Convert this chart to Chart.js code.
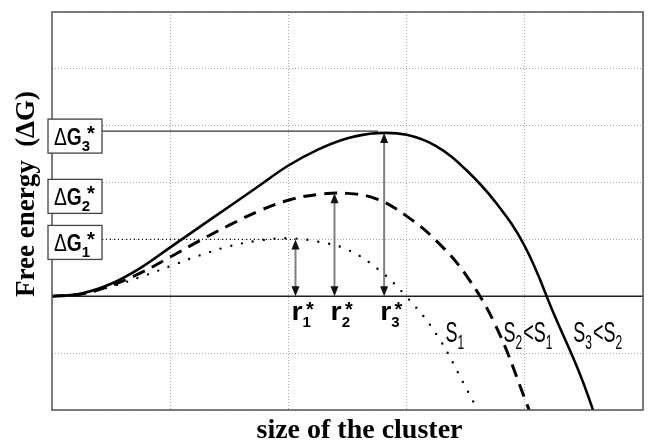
<!DOCTYPE html>
<html>
<head>
<meta charset="utf-8">
<script src="https://cdn.jsdelivr.net/npm/chart.js@4/dist/chart.umd.min.js"></script>
<style>
  body { margin: 0; background: #fff; }
  #wrap { width: 650px; height: 442px; }
</style>
</head>
<body>
<div id="wrap"><canvas id="chart" width="650" height="442"></canvas></div>
<script>
// cluster size (x) and free energy
const sizes = [0, 0.25, 0.5, 0.75, 1, 1.25, 1.5, 1.75, 2, 2.25, 2.5, 2.75, 3, 3.25, 3.5, 3.75, 4, 4.25, 4.5, 4.75];
const gS1 = [0, 0.04, 0.17, 0.34, 0.53, 0.72, 0.88, 0.98, 1.02, 0.96, 0.82, 0.49, -0.01, -0.66, -1.6, -2.6, null, null, null, null];
const gS2 = [0, 0.04, 0.19, 0.41, 0.69, 0.98, 1.25, 1.5, 1.69, 1.79, 1.81, 1.71, 1.41, 0.98, 0.38, -0.5, -1.8, -3.2, null, null];
const gS3 = [0, 0.05, 0.22, 0.5, 0.86, 1.22, 1.58, 1.94, 2.3, 2.58, 2.78, 2.87, 2.84, 2.64, 2.23, 1.66, 0.88, -0.33, -1.55, -3.1];

// critical radius / barrier for each curve
const critR = [2.06, 2.39, 2.81];
const critG = [1.0, 1.81, 2.87];
const indices = ['1', '2', '3'];

// curve labels: [first S index, second S index or null, x, y]
const curveLabels = [['1', null, 3.33, -0.81], ['2', '1', 3.82, -0.81], ['3', '2', 4.41, -0.81]];

const xTicks = [0, 1, 2, 3, 4, 5];
const yMin = -2, yMax = 5;

function pts(ys) {
  return sizes.map((x, i) => ({ x: x, y: ys[i] }));
}

// draw a run of text pieces, each with own font / offset / horizontal squeeze
function rich(ctx, x, y, parts) {
  let cx = x;
  parts.forEach(p => {
    ctx.save();
    ctx.font = p.f;
    const sx = p.sx || 1;
    ctx.translate(cx + (p.pre || 0), y + (p.dy || 0));
    ctx.scale(sx, 1);
    ctx.fillText(p.t, 0, 0);
    cx += ctx.measureText(p.t).width * sx + (p.pre || 0) + (p.gap || 0);
    ctx.restore();
  });
}

function arrow(ctx, x, yTop, yBot) {
  const hl = 10, hw = 4;
  ctx.strokeStyle = '#808080';
  ctx.lineWidth = 2;
  ctx.beginPath();
  ctx.moveTo(x, yTop + hl - 1);
  ctx.lineTo(x, yBot - hl + 1);
  ctx.stroke();
  ctx.fillStyle = '#111';
  ctx.beginPath();
  ctx.moveTo(x, yTop); ctx.lineTo(x - hw, yTop + hl); ctx.lineTo(x + hw, yTop + hl); ctx.closePath();
  ctx.fill();
  ctx.beginPath();
  ctx.moveTo(x, yBot); ctx.lineTo(x - hw, yBot - hl); ctx.lineTo(x + hw, yBot - hl); ctx.closePath();
  ctx.fill();
}

const sans = '"Liberation Sans", Arial, sans-serif';

const decor = {
  id: 'decor',
  beforeDatasetsDraw(chart) {
    const ctx = chart.ctx, a = chart.chartArea;
    const y0 = chart.scales.y.getPixelForValue(0);
    ctx.save();
    ctx.strokeStyle = '#222';
    ctx.lineWidth = 1.5;
    ctx.beginPath();
    ctx.moveTo(a.left, y0); ctx.lineTo(a.right, y0);
    ctx.stroke();
    ctx.restore();
  },
  afterDatasetsDraw(chart) {
    const ctx = chart.ctx, a = chart.chartArea;
    const xs = chart.scales.x, ys = chart.scales.y;
    const y0 = ys.getPixelForValue(0);
    ctx.save();

    // frame
    ctx.strokeStyle = '#555';
    ctx.lineWidth = 1.5;
    ctx.strokeRect(a.left, a.top, a.right - a.left, a.bottom - a.top);

    const boxL = a.left - 4, boxW = 54, boxH = 34;

    // reference line for the largest barrier
    ctx.strokeStyle = '#333';
    ctx.lineWidth = 1.3;
    ctx.beginPath();
    ctx.moveTo(boxL + boxW, ys.getPixelForValue(critG[2]) - 2);
    ctx.lineTo(xs.getPixelForValue(critR[2]) - 6, ys.getPixelForValue(critG[2]) - 2);
    ctx.stroke();
    // dotted reference for smallest barrier
    ctx.strokeStyle = '#111';
    ctx.setLineDash([1, 3]);
    ctx.beginPath();
    ctx.moveTo(boxL + boxW, ys.getPixelForValue(critG[0]));
    ctx.lineTo(xs.getPixelForValue(critR[0]), ys.getPixelForValue(critG[0]));
    ctx.stroke();
    ctx.setLineDash([]);

    // arrows and r* labels
    critR.forEach((r, i) => {
      const px = xs.getPixelForValue(r);
      arrow(ctx, px, ys.getPixelForValue(critG[i]), y0);
      ctx.fillStyle = '#000';
      ctx.textBaseline = 'alphabetic';
      rich(ctx, px - 4, y0 + 24, [
        { t: 'r', f: 'bold 26px ' + sans, sx: 1.1 },
        { t: indices[i], f: 'bold 15px ' + sans, dy: 7, gap: -6 },
        { t: '*', f: 'bold 20px ' + sans, dy: -4, pre: 1 }
      ]);
    });

    // ΔG* boxes
    critG.forEach((g, i) => {
      const cy = ys.getPixelForValue(g) + 3;
      ctx.fillStyle = '#fff';
      ctx.fillRect(boxL, cy - boxH / 2, boxW, boxH);
      ctx.strokeStyle = '#444';
      ctx.lineWidth = 1.3;
      ctx.strokeRect(boxL, cy - boxH / 2, boxW, boxH);
      ctx.fillStyle = '#000';
      rich(ctx, boxL + 6, cy + 9, [
        { t: 'Δ', f: '24px ' + sans, sx: 0.8 },
        { t: 'G', f: 'bold 24px ' + sans, sx: 0.8 },
        { t: indices[i], f: 'bold 15px ' + sans, dy: 6, gap: -3 },
        { t: '*', f: 'bold 20px ' + sans, dy: -5 }
      ]);
    });

    // S labels
    const big = '30px ' + sans;
    const sub = '20px ' + sans;
    const sq = 0.6;
    curveLabels.forEach(l => {
      const parts = [
        { t: 'S', f: big, sx: sq },
        { t: l[0], f: sub, sx: sq, dy: 7 }
      ];
      if (l[1]) {
        parts.push({ t: '<', f: big, sx: sq, pre: 1 });
        parts.push({ t: 'S', f: big, sx: sq });
        parts.push({ t: l[1], f: sub, sx: sq, dy: 7 });
      }
      ctx.fillStyle = '#000';
      rich(ctx, xs.getPixelForValue(l[2]), ys.getPixelForValue(l[3]), parts);
    });

    // axis titles
    ctx.fillStyle = '#000';
    ctx.font = 'bold 28px "Liberation Serif", "Times New Roman", serif';
    ctx.textAlign = 'center';
    ctx.fillText('size of the cluster', (a.left + a.right) / 2 + 12, 438);
    ctx.save();
    ctx.translate(34, 194);
    ctx.rotate(-Math.PI / 2);
    ctx.font = 'bold 27px "Liberation Serif", "Times New Roman", serif';
    ctx.fillText('Free energy  (ΔG)', 0, 0);
    ctx.restore();

    ctx.restore();
  }
};

const ctx = document.getElementById('chart').getContext('2d');
new Chart(ctx, {
  type: 'line',
  data: {
    datasets: [
      {
        label: 'S1',
        data: pts(gS1),
        borderColor: '#000',
        borderWidth: 2.4,
        borderDash: [0, 11],
        borderCapStyle: 'round',
        pointRadius: 0,
        tension: 0.4
      },
      {
        label: 'S2<S1',
        data: pts(gS2),
        borderColor: '#000',
        borderWidth: 3,
        borderDash: [13, 8],
        pointRadius: 0,
        tension: 0.4
      },
      {
        label: 'S3<S2',
        data: pts(gS3),
        borderColor: '#000',
        borderWidth: 2.6,
        pointRadius: 0,
        tension: 0.4
      }
    ]
  },
  options: {
    responsive: false,
    animation: false,
    layout: { padding: { left: 52, right: 7, top: 12, bottom: 32 } },
    plugins: { legend: { display: false }, tooltip: { enabled: false } },
    scales: {
      x: {
        type: 'linear',
        min: xTicks[0],
        max: xTicks[xTicks.length - 1],
        ticks: { display: false, stepSize: 1 },
        grid: { color: '#aaa', lineWidth: 1, drawTicks: false },
        border: { display: false, dash: [1, 2] }
      },
      y: {
        min: yMin,
        max: yMax,
        ticks: { display: false, stepSize: 1 },
        grid: { color: '#aaa', lineWidth: 1, drawTicks: false },
        border: { display: false, dash: [1, 2] }
      }
    }
  },
  plugins: [decor]
});
</script>
</body>
</html>
